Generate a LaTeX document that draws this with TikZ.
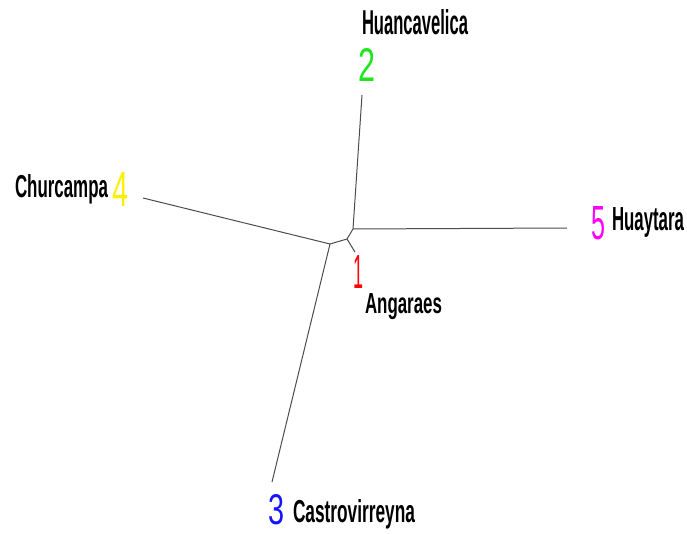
\documentclass[tikz,border=0pt]{standalone}
\usepackage{fontspec}
\setmainfont{Liberation Sans}
\usepackage{graphicx}
\definecolor{lgreen}{RGB}{30,230,30}
\definecolor{lyellow}{RGB}{250,240,0}
\definecolor{lmagenta}{RGB}{255,0,255}
\definecolor{lblue}{RGB}{20,20,255}
\definecolor{lred}{RGB}{255,0,0}
\begin{document}
\begin{tikzpicture}[x=1pt,y=-1pt,
  treeedge/.style={draw=black!70,line width=1pt},
  txt/.style={inner sep=0pt,outer sep=0pt,anchor=base west}]
\useasboundingbox (0,0) rectangle (687,534);
% internal nodes
\coordinate (A) at (353,229);
\coordinate (B) at (347,239);
\coordinate (C) at (330,244);
% leaf ends
\coordinate (e1) at (355,252);
\coordinate (e2) at (362,95);
\coordinate (e3) at (272,482);
\coordinate (e4) at (143,198);
\coordinate (e5) at (567,228);
\draw[treeedge] (A) -- (e2);
\draw[treeedge] (A) -- (e5);
\draw[treeedge] (A) -- (B);
\draw[treeedge] (B) -- (e1);
\draw[treeedge] (B) -- (C);
\draw[treeedge] (C) -- (e4);
\draw[treeedge] (C) -- (e3);
% labels
\node[txt] (name2) at (362,35) {\resizebox{106pt}{25pt}{\bfseries Huancavelica}};
\node[txt,text=lgreen] (num2) at (358,82) {\resizebox{17pt}{33pt}{2}};
\node[txt] (name4) at (15,198) {\resizebox{93pt}{23pt}{\bfseries Churcampa}};
\node[txt,text=lyellow] (num4) at (112,207) {\resizebox{16pt}{34pt}{4}};
\node[txt,text=lmagenta] (num5) at (591,240) {\resizebox{14pt}{33pt}{5}};
\node[txt] (name5) at (612,231) {\resizebox{72pt}{23pt}{\bfseries Huaytara}};
\node[txt,text=lblue] (num3) at (268,524) {\resizebox{16pt}{30pt}{3}};
\node[txt] (name3) at (293,522) {\resizebox{122pt}{23pt}{\bfseries Castrovirreyna}};
\node[txt,text=lred] (num1) at (353,289) {\resizebox{10pt}{33pt}{1}};
\node[txt] (name1) at (365,313) {\resizebox{77pt}{20pt}{\bfseries Angaraes}};
\end{tikzpicture}
\end{document}
